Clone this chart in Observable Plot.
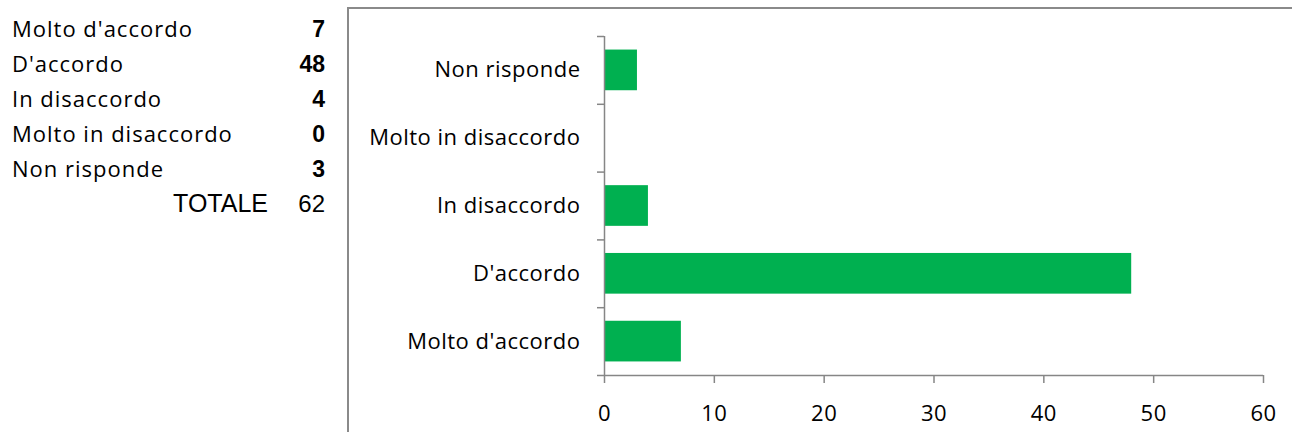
<!DOCTYPE html>
<html><head><meta charset="utf-8">
<script src="https://cdn.jsdelivr.net/npm/d3@7"></script>
<script src="https://cdn.jsdelivr.net/npm/@observablehq/plot@0.6"></script>
<style>
html,body{margin:0;padding:0;background:#fff;}
body{width:1292px;height:432px;overflow:hidden;position:relative;}
#frame{position:absolute;left:347px;top:7px;width:1100px;height:600px;border:2px solid #8a8a8a;}
#chart{position:absolute;left:0;top:0;}
#tbl{position:absolute;left:12px;top:11px;border-collapse:collapse;table-layout:fixed;}
#tbl td{padding:0;height:34px;line-height:34px;vertical-align:baseline;white-space:nowrap;}
#tbl td.lab{width:278px;font-family:'Open Sans';font-size:22px;letter-spacing:1px;color:#000;}
#tbl td.num{width:35px;text-align:right;font-family:'Liberation Sans',Arial;font-weight:bold;font-size:23px;color:#000;}
#tbl td.tot{width:278px;text-align:right;padding-right:22px;box-sizing:border-box;font-family:'Liberation Sans',Arial;font-size:25px;}
#tbl td.totv{text-align:right;font-family:'Liberation Sans',Arial;font-size:24px;}
</style></head><body>
<div id="frame"></div>
<table id="tbl"></table>
<div id="chart"></div>
<script>
const categories = ["Molto d'accordo", "D'accordo", "In disaccordo", "Molto in disaccordo", "Non risponde"];
const values = [7, 48, 4, 0, 3];
const totalLabel = "TOTALE";
const totalValue = 62;
const xTicks = [0, 10, 20, 30, 40, 50, 60];

// side table
const tbl = document.getElementById("tbl");
categories.forEach((c, i) => {
  const tr = document.createElement("tr");
  const a = document.createElement("td"); a.className = "lab"; a.textContent = c;
  const b = document.createElement("td"); b.className = "num"; b.textContent = values[i];
  tr.append(a, b); tbl.append(tr);
});
{
  const tr = document.createElement("tr");
  const a = document.createElement("td"); a.className = "tot"; a.textContent = totalLabel;
  const b = document.createElement("td"); b.className = "totv"; b.textContent = totalValue;
  tr.append(a, b); tbl.append(tr);
}

const n = categories.length;
const rows = categories.map((c, i) => ({category: c, value: values[i], i}));
const axisColor = "#868686";

const chart = Plot.plot({
  width: 1292, height: 432,
  marginLeft: 604, marginRight: 29, marginTop: 36, marginBottom: 57,
  style: {fontFamily: "'Open Sans'", fontSize: "22px", color: "#000", background: "transparent", overflow: "visible", letterSpacing: "0.5px"},
  x: {domain: [0, 60], label: null},
  y: {domain: [0, n], label: null},
  marks: [
    Plot.rect(rows, {x1: () => 0, x2: "value", y1: d => d.i + 0.2, y2: d => d.i + 0.8, fill: "#00B050"}),
    Plot.axisY(d3.range(n + 1), {tickSize: 7, tickFormat: () => "", stroke: axisColor, strokeWidth: 1.5, label: null}),
    Plot.axisY(rows.map(d => d.i + 0.5), {tickSize: 0, tickPadding: 24, tickFormat: v => categories[Math.floor(v)], fill: "#000", label: null}),
    Plot.ruleX([0], {stroke: axisColor, strokeWidth: 1.5}),
    Plot.axisX(xTicks, {tickSize: 8, tickPadding: 22, stroke: axisColor, strokeWidth: 1.5, fill: "#000", label: null}),
    Plot.ruleY([0], {stroke: axisColor, strokeWidth: 1.5})
  ]
});
document.getElementById("chart").append(chart);
</script>
</body></html>
